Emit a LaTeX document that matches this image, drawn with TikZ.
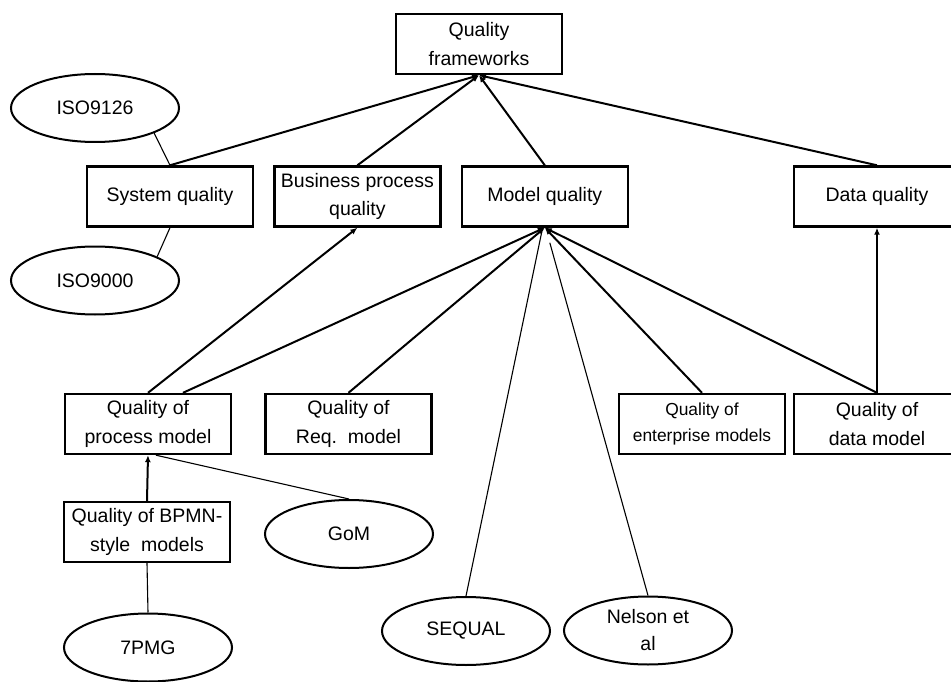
\documentclass[tikz,border=0pt]{standalone}
\usepackage{fontspec}
\setmainfont{Liberation Sans}
\usetikzlibrary{arrows.meta, positioning, shapes.geometric}

\begin{document}
\begin{tikzpicture}[ 
x=1pt, y=-1pt, 
node distance=19pt, 
box/.style={draw, 
rectangle, 
line width=2.4pt, 
minimum width=166pt, 
minimum height=60pt, 
inner sep=0pt, 
align=center, 
font=\fontsize{19.5}{28.5}\selectfont}, 
oval/.style={draw, 
ellipse, 
line width=2pt, 
minimum width=168pt, 
minimum height=68pt, 
inner sep=0pt, 
align=center, 
font=\fontsize{19.5}{27}\selectfont}, 
arrow/.style={-{Latex[length=7pt, width=6pt]}, line width=2pt}, 
link/.style={line width=1.1pt} 
]

\useasboundingbox (0,0) rectangle (951,682);
\clip (0,0) rectangle (951,682);

\node[box] (frame) at (479,44) {Quality\\frameworks}; 
\node[box] (sysq) at (170,196.5) {System quality}; 
\node[box, right=of sysq] (bpq) {Business process\\quality}; 
\node[box, right=of bpq] (modelq) {Model quality}; 
\node[box] (dataq) at (877,196.5) {Data quality}; 
\node[box] (procm) at (148,424) {Quality of\\process model}; 
\node[box] (reqm) at (348.5,424) {Quality of\\Req.\ \ model}; 
\node[box, font=\fontsize{17.4}{26}\selectfont] (entm) at (702,424) {Quality of\\enterprise models}; 
\node[box] (datam) at (877,424) {Quality of\\data model}; 
\node[box] (bpmn) at (147,532) {Quality of BPMN-\\style\ \ models};

\node[oval] (iso9126) at (95,108) {ISO9126}; 
\node[oval] (iso9000) at (95,280.5) {ISO9000}; 
\node[oval] (gom) at (349,534) {GoM}; 
\node[oval] (pmg) at (148,647.5) {7PMG}; 
\node[oval] (sequal) at (466,631) {SEQUAL}; 
\node[oval] (nelson) at (648,630.5) {Nelson et\\al};

\draw[arrow] (sysq.north) -- (frame.south); 
\draw[arrow] (bpq.north) -- (frame.south); 
\draw[arrow] (modelq.north) -- (frame.south); 
\draw[arrow] (dataq.north) -- (frame.south); 
\draw[arrow] (procm.north) -- (bpq.south); 
\draw[arrow] ([xshift=35pt]procm.north) -- (modelq.south); 
\draw[arrow] (reqm.north) -- (modelq.south); 
\draw[arrow] (entm.north) -- (modelq.south); 
\draw[arrow] (datam.north) -- (modelq.south); 
\draw[arrow] (datam.north) -- (dataq.south); 
\draw[arrow] (bpmn.north) -- (procm.south);

\draw[link] (gom.north) -- ([xshift=8pt]procm.south); 
\draw[link] (bpmn.south) -- (pmg.north); 
\draw[link] (sequal.north) -- ([xshift=-3pt, yshift=-4pt]modelq.south); 
\draw[link] (nelson.north) -- ([xshift=5pt, yshift=-15pt]modelq.south); 
\draw[link] (iso9126.-23) -- (sysq.north); 
\draw[link] (sysq.south) -- (iso9000.21);

\end{tikzpicture}
\end{document}
